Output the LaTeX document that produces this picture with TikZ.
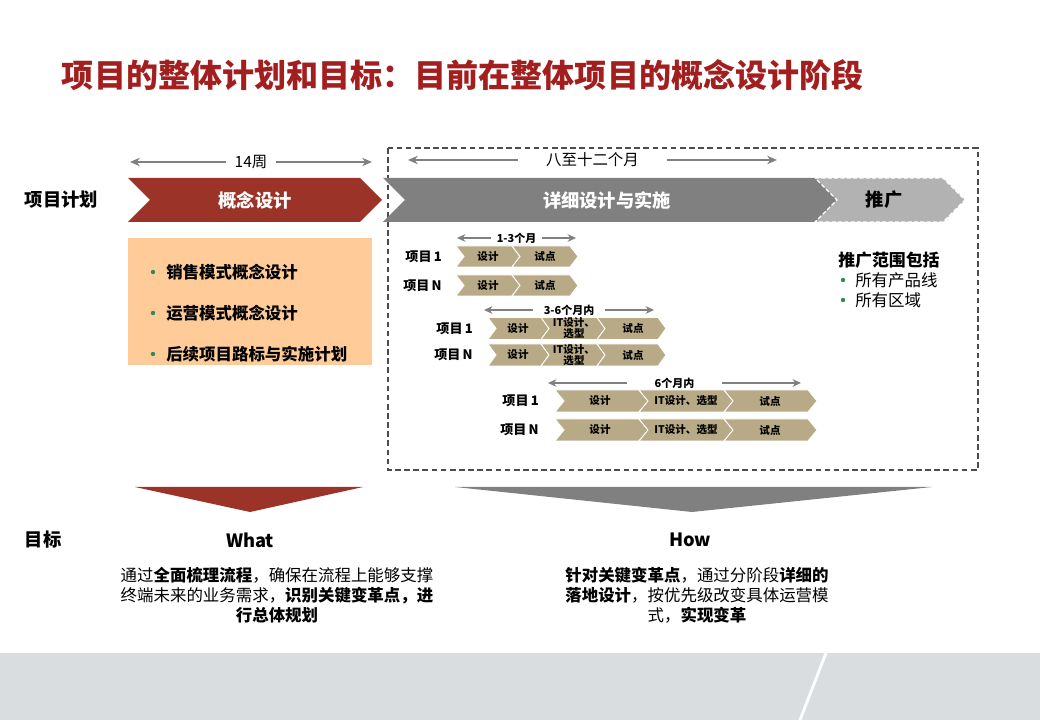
\documentclass[tikz,border=0pt]{standalone}
\usepackage{fontspec}
\setmainfont{Noto Sans CJK SC}
\usetikzlibrary{arrows.meta, positioning, calc}

\definecolor{titlered}{HTML}{A31F1F}
\definecolor{phasered}{HTML}{9C3329}
\definecolor{phasegray}{HTML}{808080}
\definecolor{rollgray}{HTML}{B2B2B2}
\definecolor{peach}{HTML}{FFCC99}
\definecolor{tanbrown}{HTML}{B8AA87}
\definecolor{dotgreen}{HTML}{2E8B57}
\definecolor{bandgray}{HTML}{D9DDE0}

% chevron outline: x1, x2, y centre, half height, notch depth
\newcommand{\chevpath}[5]{(#1,#3-#4) -- (#2-#5,#3-#4) -- (#2,#3) -- (#2-#5,#3+#4) -- (#1,#3+#4) -- (#1+#5,#3) -- cycle}

\begin{document}
\begin{tikzpicture}[x=0.025cm, y=-0.025cm,
  span/.style={draw=phasegray, line width=1pt, {Stealth[length=7pt,width=6pt]}-{Stealth[length=7pt,width=6pt]}},
  spanlbl/.style={fill=white, inner sep=1pt, font=\fontsize{11}{13}\selectfont},
  smallspan/.style={draw=phasegray, line width=0.9pt, {Stealth[length=6pt,width=5.5pt]}-{Stealth[length=6pt,width=5.5pt]}},
  smallspanlbl/.style={fill=white, inner sep=0.5pt, font=\fontsize{7.8}{8.5}\selectfont\bfseries},
  rowlbl/.style={anchor=east, inner sep=0pt, font=\fontsize{9.3}{10}\selectfont\bfseries},
  chevlbl/.style={inner sep=0pt, align=center, font=\fontsize{7.5}{7.8}\selectfont\bfseries},
  phaselbl/.style={font=\fontsize{13}{15}\selectfont\bfseries},
  bigtxt/.style={font=\fontsize{13}{15}\selectfont\bfseries},
  para/.style={align=center, font=\fontsize{11.7}{14.2}\selectfont}]

\useasboundingbox (0,0) rectangle (1040,720);

% Title
\node[anchor=west, text=titlered, font=\fontsize{22.8}{26}\selectfont\bfseries] (title) at (57,75)
  {项目的整体计划和目标：目前在整体项目的概念设计阶段};

% Bottom band
\fill[bandgray] (0,653) rectangle (1040,720);
\draw[white, line width=2pt] (826,653) -- (800,720);

% Row labels
\node[anchor=west, bigtxt] (plan) at (20,200) {项目计划};
\node[anchor=west, bigtxt] (goal) at (20,540) {目标};

% Dashed frame round the later phases
\draw[draw=black!70, line width=1pt, dash pattern=on 4pt off 2.5pt] (388,148) rectangle (978,470);

% Phase chevrons
\fill[phasered] \chevpath{128}{382}{200}{22}{22};
\fill[phasegray] \chevpath{383}{838}{200}{22}{22};
\fill[rollgray, draw=white, dash pattern=on 3pt off 1.5pt, line width=0.8pt] \chevpath{815}{965}{200}{22}{22};
\node[phaselbl, text=white] (concept) at (255,200) {概念设计};
\node[phaselbl, text=white] (detail) at (607,200) {详细设计与实施};
\node[phaselbl, text=black] (rollout) at (884,200) {推广};

% Duration spans
\coordinate (w1) at (130,162);
\coordinate (w2) at (372,162);
\draw[span] (w1) -- node[spanlbl, inner xsep=6pt] (weeks) {14周} (w2);
\coordinate (m1) at (408,160);
\coordinate (m2) at (777,160);
\draw[span] (m1) -- node[spanlbl, inner xsep=20pt] (months) {八至十二个月} (m2);

% Concept design contents
\fill[peach] (128,238) rectangle (372,365);
\foreach \t [count=\i] in {销售模式概念设计, 运营模式概念设计, 后续项目路标与实施计划} {
  \fill[dotgreen] (153,231+41*\i) circle (2.2);
  \node[anchor=west, inner sep=0pt, font=\fontsize{11.7}{13}\selectfont\bfseries] (cd\i) at (166,231+41*\i) {\t};
}

% Roll-out scope
\node[anchor=west, inner sep=0pt, bigtxt, font=\fontsize{12}{14}\selectfont\bfseries] (scope) at (838,260) {推广范围包括};
\foreach \t [count=\i] in {所有产品线, 所有区域} {
  \fill[dotgreen] (843,260+20*\i) circle (2.2);
  \node[anchor=west, inner sep=0pt, font=\fontsize{11.7}{13}\selectfont] (sc\i) at (855,260+20*\i) {\t};
}

% Pilot group 1-3 months
\coordinate (ga1) at (457,238);
\coordinate (ga2) at (576,238);
\draw[smallspan] (ga1) -- node[smallspanlbl, inner xsep=4pt] (gal) {1-3个月} (ga2);
\foreach \r/\yy in {1/256.5, N/285.5} {
  \node[rowlbl] (a\r) at (442,\yy) {项目\,\r};
  \fill[tanbrown, draw=white, line width=0.6pt] \chevpath{456}{520}{\yy}{10.5}{8};
  \fill[tanbrown, draw=white, line width=0.6pt] \chevpath{512}{578}{\yy}{10.5}{8};
  \node[chevlbl] (a\r d) at (488,\yy) {设计};
  \node[chevlbl] (a\r p) at (545,\yy) {试点};
}

% Pilot group 3-6 months
\coordinate (gb1) at (484,310);
\coordinate (gb2) at (654,310);
\draw[smallspan] (gb1) -- node[smallspanlbl, inner xsep=8pt] (gbl) {3-6个月内} (gb2);
\foreach \r/\yy in {1/328.5, N/355} {
  \node[rowlbl] (b\r) at (473,\yy) {项目\,\r};
  \fill[tanbrown, draw=white, line width=0.6pt] \chevpath{488}{549}{\yy}{11}{8};
  \fill[tanbrown, draw=white, line width=0.6pt] \chevpath{541}{605}{\yy}{11}{8};
  \fill[tanbrown, draw=white, line width=0.6pt] \chevpath{597}{666}{\yy}{11}{8};
  \node[chevlbl] (b\r d) at (518,\yy) {设计};
  \node[chevlbl] (b\r i) at (574,\yy) {IT设计、\\选型};
  \node[chevlbl] (b\r p) at (633,\yy) {试点};
}

% Pilot group within 6 months
\coordinate (gc1) at (548,383);
\coordinate (gc2) at (801,383);
\draw[smallspan] (gc1) -- node[smallspanlbl, inner xsep=20pt] (gcl) {6个月内} (gc2);
\foreach \r/\yy in {1/401, N/430} {
  \node[rowlbl] (c\r) at (539,\yy) {项目\,\r};
  \fill[tanbrown, draw=white, line width=0.6pt] \chevpath{555}{648}{\yy}{11}{9};
  \fill[tanbrown, draw=white, line width=0.6pt] \chevpath{639}{733}{\yy}{11}{9};
  \fill[tanbrown, draw=white, line width=0.6pt] \chevpath{724}{817}{\yy}{11}{9};
  \node[chevlbl] (c\r d) at (600,\yy) {设计};
  \node[chevlbl] (c\r i) at (686,\yy) {IT设计、选型};
  \node[chevlbl] (c\r p) at (770,\yy) {试点};
}

% Downward pointers
\fill[phasered] (135,487) -- (363,487) -- (250,512) -- cycle;
\fill[phasegray] (455,487) -- (932,487) -- (692,512) -- cycle;

% Goals
\node[bigtxt] (what) at (250,540) {What};
\node[bigtxt] (how) at (690,540) {How};
\node[para, anchor=north] (whattxt) at (277,562)
  {通过\textbf{全面梳理流程}，确保在流程上能够支撑\\
   终端未来的业务需求，\textbf{识别关键变革点，进}\\
   \textbf{行总体规划}};
\node[para, anchor=north] (howtxt) at (697,562)
  {\textbf{针对关键变革点}，通过分阶段\textbf{详细的}\\
   \textbf{落地设计}，按优先级改变具体运营模\\
   式，\textbf{实现变革}};

\end{tikzpicture}
\end{document}
